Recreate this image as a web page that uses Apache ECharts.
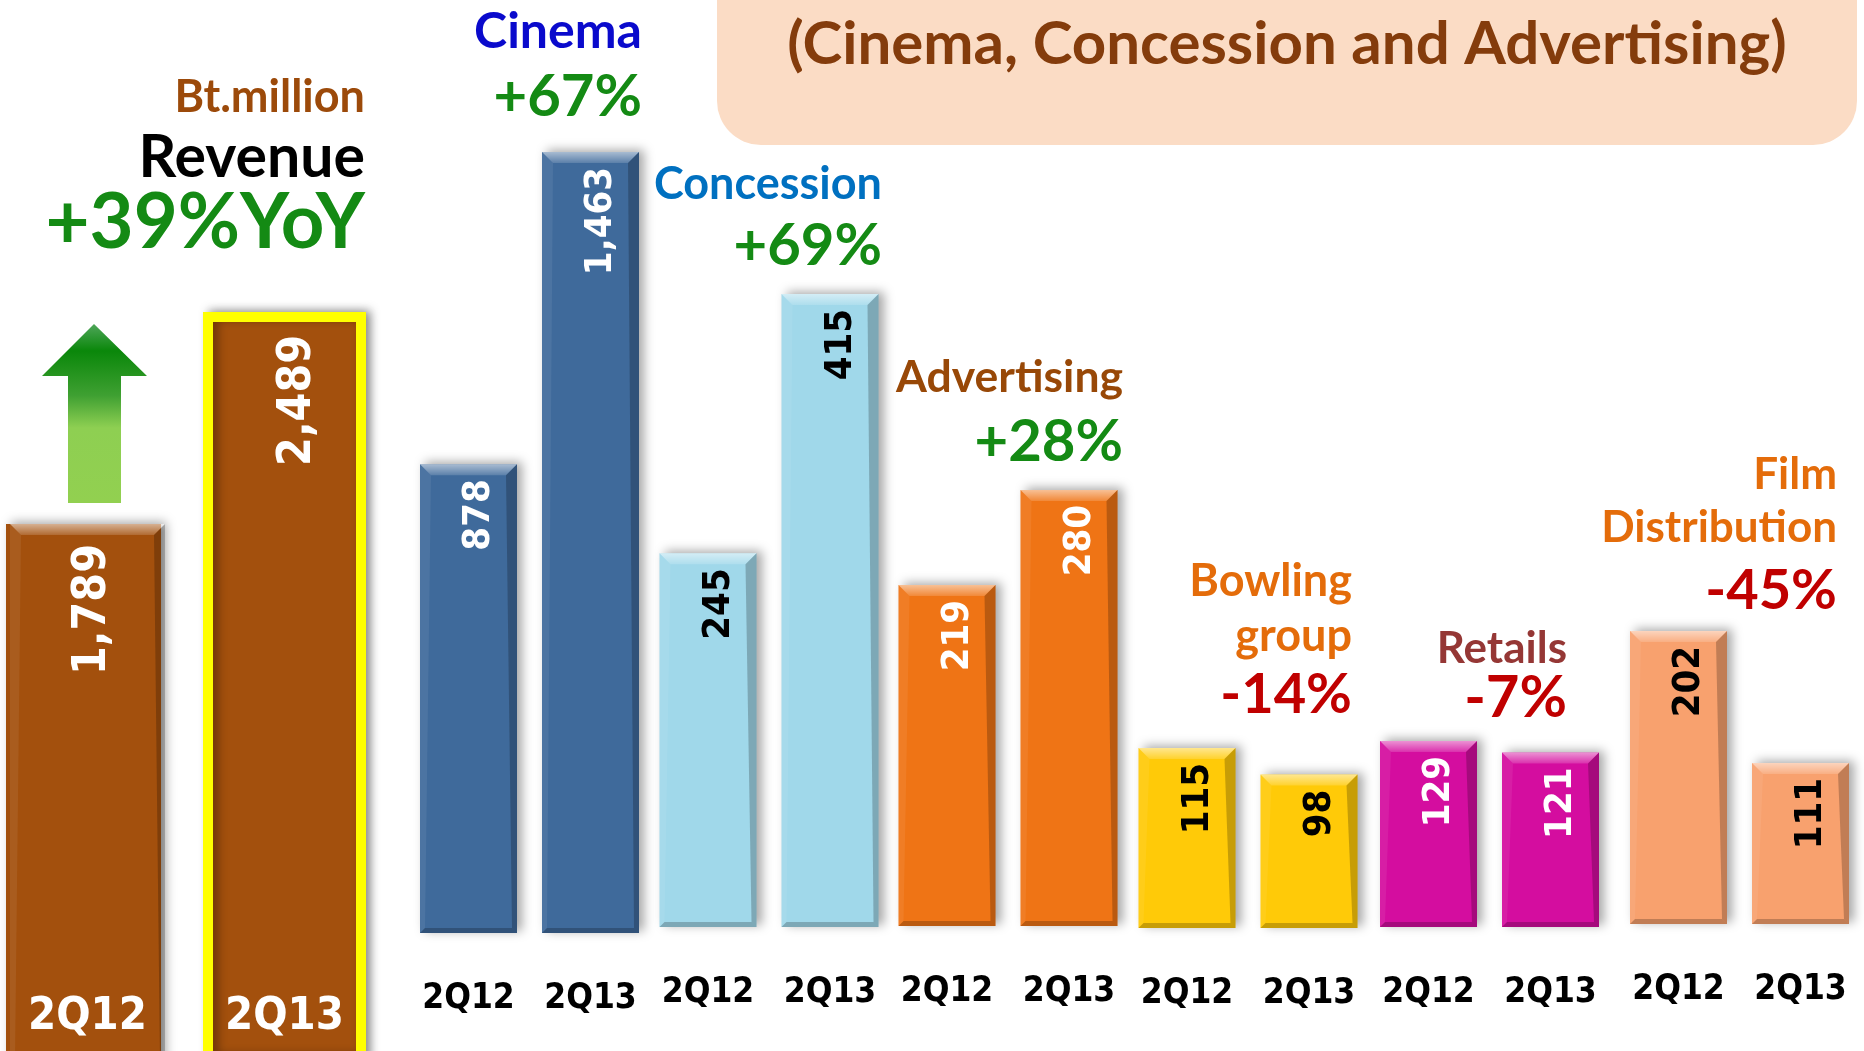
<!DOCTYPE html>
<html><head><meta charset="utf-8">
<script src="https://cdn.jsdelivr.net/npm/echarts@6/dist/echarts.min.js"></script>
<style>html,body{margin:0;padding:0;background:#fff}#c{width:1864px;height:1051px}</style>
</head><body><div id="c"></div>
<script>
// ---------- data ----------
const periods = ['2Q12', '2Q13'];
const revenueValues = [1789, 2489];
const cinemaValues = [878, 1463];
const concessionValues = [245, 415];
const advertisingValues = [219, 280];
const bowlingValues = [115, 98];
const retailValues = [129, 121];
const filmValues = [202, 111];

const titleText = '(Cinema, Concession and Advertising)';
const unitText = 'Bt.million';
const revenueTitle = 'Revenue';
const revenueGrowth = '+39%YoY';
const groupNames = ['Cinema', 'Concession', 'Advertising', ['Bowling', 'group'], 'Retails', ['Film', 'Distribution']];
const groupGrowth = ['+67%', '+69%', '+28%', '-14%', '-7%', '-45%'];

// ---------- layout / style ----------
const TITLE_FONT = 'Lato, "Open Sans", sans-serif';
const VAL_FONT = '"DejaVu Sans Condensed", "DejaVu Sans", sans-serif';
const AX_FONT = '"DejaVu Sans Condensed", "DejaVu Sans", sans-serif';

const groups = [
  {values: cinemaValues, color: '#3F6A9B', label: '#ffffff', left: 407.5, top: 152, base: 933},
  {values: concessionValues, color: '#A0D8EA', label: '#000000', left: 647, top: 294, base: 927},
  {values: advertisingValues, color: '#EF7415', label: '#ffffff', left: 886, top: 490, base: 926},
  {values: bowlingValues, color: '#FFCA08', label: '#000000', left: 1126, top: 748, base: 928},
  {values: retailValues, color: '#D40D9F', label: '#ffffff', left: 1367.5, top: 741, base: 927},
  {values: filmValues, color: '#F8A16E', label: '#000000', left: 1617.5, top: 631, base: 924}
];
const BW = 97;

const grids = [], xAxes = [], yAxes = [], series = [];

function bevel(bw, skip) {
  return function (params, api) {
    if (skip && skip.indexOf(params.dataIndex) >= 0) return null;
    const top = api.coord([api.value(0), api.value(1)]);
    const bot = api.coord([api.value(0), 0]);
    const L = top[0] - bw / 2, R = top[0] + bw / 2, T = top[1], B = bot[1], d = 11, s = 5;
    return {
      type: 'group', children: [
        {type: 'polygon', shape: {points: [[L, T], [R, T], [R - d, T + d], [L + d, T + d]]},
          style: {fill: {type: 'linear', x: 0, y: 0, x2: 0, y2: 1, colorStops: [
            {offset: 0, color: 'rgba(255,255,255,0.55)'}, {offset: 1, color: 'rgba(255,255,255,0.15)'}]}}},
        {type: 'polygon', shape: {points: [[R, T], [R, B], [R - s, B - s], [R - d, T + d]]},
          style: {fill: 'rgba(0,0,0,0.22)'}},
        {type: 'polygon', shape: {points: [[L, T], [L + d, T + d], [L + s, B - s], [L, B]]},
          style: {fill: 'rgba(255,255,255,0.07)'}},
        {type: 'polygon', shape: {points: [[L, B], [L + s, B - s], [R - s, B - s], [R, B]]},
          style: {fill: 'rgba(0,0,0,0.22)'}}
      ]
    };
  };
}

const SHADOW = {shadowBlur: 10, shadowColor: 'rgba(0,0,0,0.35)', shadowOffsetX: 5, shadowOffsetY: -2};

// revenue panel (grid 0) — baseline lies below the canvas edge
grids.push({left: -11, width: 394, top: 312, height: 754, outerBoundsMode: 'none'});
xAxes.push({type: 'category', gridIndex: 0, data: periods, z: 10,
  axisLine: {show: false}, axisTick: {show: false},
  axisLabel: {inside: true, interval: 0, margin: 49, verticalAlign: 'middle', color: '#ffffff',
    fontFamily: AX_FONT, fontWeight: 'bold', fontSize: 45}});
yAxes.push({type: 'value', gridIndex: 0, min: 0, max: 'dataMax', show: false, splitLine: {show: false}});
const revLabel = {show: true, position: 'insideTop', distance: 20, rotate: 90, align: 'right', verticalAlign: 'middle',
  offset: [0, 10], color: '#ffffff', fontFamily: VAL_FONT, fontWeight: 'bold', fontSize: 46,
  formatter: p => p.value.toLocaleString('en-US')};
// 2Q12 revenue bar
series.push({type: 'bar', xAxisIndex: 0, yAxisIndex: 0, barWidth: 155, barGap: '-100%',
  data: revenueValues.map((v, i) => i === 0 ? v : '-'),
  itemStyle: Object.assign({color: '#A3500D'}, SHADOW), label: revLabel});
// 2Q13 revenue bar, highlighted with yellow frame
series.push({type: 'bar', xAxisIndex: 0, yAxisIndex: 0, barWidth: 163, barGap: '-100%',
  data: revenueValues.map((v, i) => i === 1 ? v : '-'),
  itemStyle: Object.assign({color: '#A3500D', borderColor: '#FFFF00', borderWidth: 10}, SHADOW),
  label: Object.assign({}, revLabel, {distance: 23, offset: [0, 14]})});
series.push({type: 'custom', xAxisIndex: 0, yAxisIndex: 0, z: 3, silent: true,
  renderItem: bevel(155, [1]), data: revenueValues.map((v, i) => [i, v])});

groups.forEach((g, k) => {
  const gi = k + 1;
  grids.push({left: g.left, width: 244, top: g.top, height: g.base - g.top, outerBoundsMode: 'none'});
  xAxes.push({type: 'category', gridIndex: gi, data: periods,
    axisLine: {show: false}, axisTick: {show: false},
    axisLabel: {interval: 0, margin: 66, verticalAlign: 'middle', color: '#000000',
      fontFamily: AX_FONT, fontWeight: 'bold', fontSize: 35}});
  yAxes.push({type: 'value', gridIndex: gi, min: 0, max: 'dataMax', show: false, splitLine: {show: false}});
  series.push({type: 'bar', xAxisIndex: gi, yAxisIndex: gi, barWidth: BW, data: g.values,
    itemStyle: Object.assign({color: g.color}, SHADOW),
    label: {show: true, position: 'insideTop', distance: 19, rotate: 90, align: 'right', verticalAlign: 'middle',
      offset: [4, 11], color: g.label, fontFamily: VAL_FONT, fontWeight: 'bold', fontSize: 38,
      formatter: p => p.value.toLocaleString('en-US')}});
  series.push({type: 'custom', xAxisIndex: gi, yAxisIndex: gi, z: 3, silent: true,
    renderItem: bevel(BW), data: g.values.map((v, i) => [i, v])});
});

// ---------- annotation texts ----------
function txt(text, x, y, size, color, align) {
  return {type: 'text', x: x, y: y, z: 20, silent: true,
    style: {text: text, fill: color, font: 'bold ' + size + 'px ' + TITLE_FONT,
      align: align || 'right', verticalAlign: 'middle'}};
}
const GREEN = '#148A14', RED = '#C00000', ORANGE = '#E46C0A';
const graphics = [
  {type: 'rect', z: 0, silent: true, shape: {x: 717, y: -60, width: 1140, height: 205, r: 44},
    style: {fill: '#FBDCC5'}},
  txt(titleText, 1287, 45, 60, '#843C0C', 'center'),
  // arrow
  {type: 'polygon', z: 5, silent: true,
    shape: {points: [[94, 324], [147, 376], [121, 376], [121, 503], [68, 503], [68, 376], [42, 376]]},
    style: {fill: {type: 'linear', x: 0, y: 0, x2: 0, y2: 1, colorStops: [
      {offset: 0, color: '#4FA65A'}, {offset: 0.15, color: '#0A870A'}, {offset: 0.4, color: '#3FA032'},
      {offset: 0.58, color: '#8ECF52'}, {offset: 1, color: '#92D050'}]}}},
  txt(unitText, 365, 97, 45, '#9C4A0A'),
  txt(revenueTitle, 365, 158, 59, '#000000'),
  txt(revenueGrowth, 365, 223, 76, GREEN),
  txt(groupNames[0], 642, 32, 50, '#0A0ACC'),
  txt(groupGrowth[0], 642, 97, 58, GREEN),
  txt(groupNames[1], 882, 184, 45, '#0070C0'),
  txt(groupGrowth[1], 882, 246, 58, GREEN),
  txt(groupNames[2], 1123, 378, 44.5, '#984807'),
  txt(groupGrowth[2], 1123, 442, 58, GREEN),
  txt(groupNames[3][0], 1352, 581, 45, ORANGE),
  txt(groupNames[3][1], 1352, 636, 45, ORANGE),
  txt(groupGrowth[3], 1352, 695, 56, RED),
  txt(groupNames[4], 1567, 649, 44, '#953735'),
  txt(groupGrowth[4], 1567, 698, 58, RED),
  txt(groupNames[5][0], 1837, 475, 44, ORANGE),
  txt(groupNames[5][1], 1837, 528, 44, ORANGE),
  txt(groupGrowth[5], 1837, 591, 56, RED)
];

const chart = echarts.init(document.getElementById('c'), null, {renderer: 'canvas'});
chart.setOption({
  animation: false,
  backgroundColor: '#ffffff',
  grid: grids, xAxis: xAxes, yAxis: yAxes, series: series,
  graphic: graphics
});
</script></body></html>
